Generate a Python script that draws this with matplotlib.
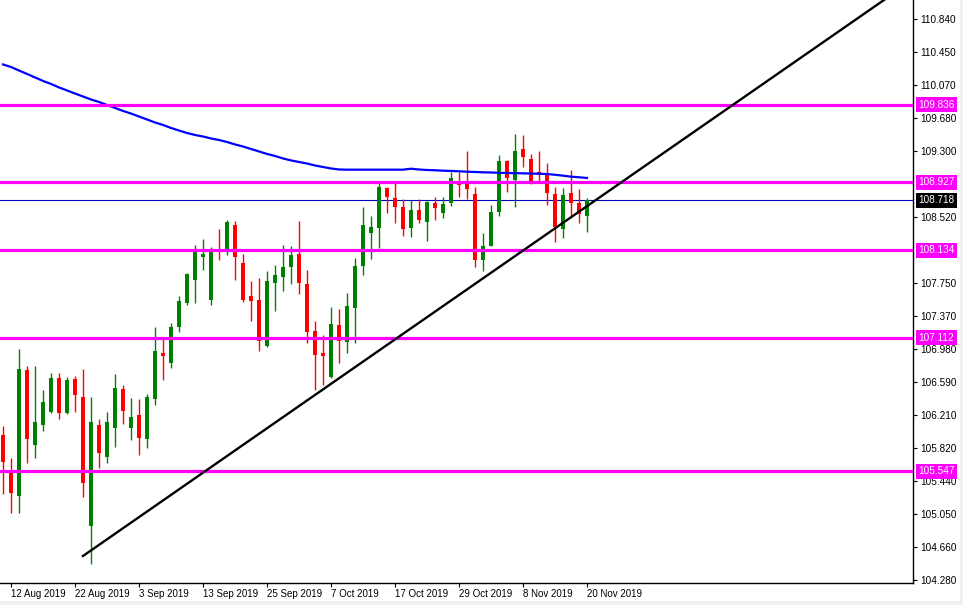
import numpy as np
import pandas as pd
import matplotlib
matplotlib.use('Agg')
import matplotlib.pyplot as plt
from matplotlib.patches import Rectangle

# daily candles, 9 Aug 2019 .. 20 Nov 2019
opens = [105.973, 105.543, 105.263, 106.733, 105.859, 106.090, 106.245, 106.640, 106.234, 106.628,
         106.417, 104.912, 106.090, 105.719, 106.058, 106.511, 106.058, 106.207, 105.930, 106.398,
         106.932, 106.819, 107.240, 107.517, 107.790, 108.055, 107.552, 108.129, 108.117, 108.430,
         107.985, 107.599, 107.552, 107.018, 107.755, 107.825, 107.942, 108.091, 107.740, 107.190,
         106.936, 106.655, 107.260, 107.064, 107.462, 107.954, 108.340, 108.398, 108.863, 108.746,
         108.640, 108.398, 108.605, 108.468, 108.691, 108.574, 108.691, 108.933, 108.918, 108.793,
         108.020, 108.184, 108.585, 109.179, 108.956, 109.319, 109.202, 109.046, 109.015, 108.793,
         108.387, 108.808, 108.684, 108.539]
highs = [106.078, 105.707, 106.979, 106.780, 106.780, 106.499, 106.702, 106.702, 106.655, 106.667,
         106.745, 106.417, 106.160, 106.242, 106.687, 106.558, 106.406, 106.394, 106.453, 107.236,
         107.104, 107.287, 107.599, 107.868, 108.196, 108.270, 108.172, 108.387, 108.488, 108.477,
         108.087, 107.775, 107.810, 107.892, 107.962, 108.196, 108.184, 108.477, 107.903, 107.307,
         107.143, 107.474, 107.447, 107.631, 108.040, 108.637, 108.535, 108.918, 108.878, 108.918,
         108.731, 108.722, 108.731, 108.711, 108.754, 108.761, 109.053, 109.053, 109.296, 108.871,
         108.333, 108.664, 109.249, 109.190, 109.495, 109.483, 109.261, 109.296, 109.159, 108.878,
         108.859, 109.073, 108.848, 108.746]
lows = [105.279, 105.057, 105.064, 105.649, 105.707, 106.023, 106.234, 106.160, 106.222, 106.245,
        105.251, 104.460, 105.590, 105.649, 105.829, 106.105, 105.918, 105.742, 105.824, 106.327,
        106.620, 106.760, 107.181, 107.497, 107.517, 107.903, 107.497, 108.024, 108.082, 107.790,
        107.532, 107.310, 106.959, 107.006, 107.427, 107.661, 107.743, 107.626, 107.046, 106.499,
        106.558, 106.640, 106.812, 106.936, 107.046, 107.848, 108.036, 108.157, 108.567, 108.457,
        108.301, 108.293, 108.450, 108.246, 108.488, 108.512, 108.652, 108.761, 108.731, 107.933,
        107.895, 108.180, 108.537, 108.816, 108.644, 109.112, 108.906, 108.936, 108.664, 108.234,
        108.278, 108.527, 108.453, 108.351]
closes = [105.660, 105.298, 106.745, 105.923, 106.125, 106.359, 106.640, 106.234, 106.616, 106.444,
          105.415, 106.125, 105.766, 106.125, 106.523, 106.257, 106.183, 105.941, 106.417, 106.956,
          106.901, 107.236, 107.541, 107.857, 108.129, 108.091, 108.137, 108.117, 108.465, 108.059,
          107.556, 107.544, 107.076, 107.775, 107.845, 107.938, 108.079, 107.755, 107.181, 106.912,
          106.901, 107.272, 107.076, 107.482, 107.950, 108.430, 108.406, 108.878, 108.761, 108.644,
          108.387, 108.605, 108.492, 108.699, 108.632, 108.676, 108.980, 108.894, 108.848, 108.020,
          108.184, 108.582, 109.179, 108.980, 109.296, 109.229, 108.933, 109.023, 108.808, 108.410,
          108.781, 108.684, 108.555, 108.718]
moving_avg = [110.308, 110.278, 110.237, 110.197, 110.156, 110.115, 110.080, 110.039, 110.004, 109.968,
              109.933, 109.898, 109.869, 109.834, 109.799, 109.764, 109.734, 109.699, 109.664, 109.629,
              109.600, 109.565, 109.535, 109.506, 109.483, 109.465, 109.442, 109.424, 109.401, 109.372,
              109.348, 109.319, 109.290, 109.261, 109.237, 109.208, 109.185, 109.167, 109.149, 109.126,
              109.108, 109.091, 109.079, 109.077, 109.077, 109.077, 109.077, 109.077, 109.077, 109.077,
              109.077, 109.088, 109.079, 109.073, 109.070, 109.065, 109.062, 109.058, 109.053, 109.050,
              109.046, 109.044, 109.040, 109.038, 109.036, 109.034, 109.032, 109.029, 109.026, 109.017,
              109.007, 108.995, 108.988, 108.980]

levels = [109.836, 108.927, 108.134, 107.112, 105.547]
last_price = 108.718
trend_bars = [10, 115]
trend_prices = [104.557, 111.379]

date_labels = ['12 Aug 2019', '22 Aug 2019', '3 Sep 2019', '13 Sep 2019', '25 Sep 2019',
               '7 Oct 2019', '17 Oct 2019', '29 Oct 2019', '8 Nov 2019', '20 Nov 2019']
price_ticks = [110.840, 110.450, 110.070, 109.680, 109.300, 108.520, 107.750, 107.370,
               106.980, 106.590, 106.210, 105.820, 105.440, 105.050, 104.660, 104.280]

plt.rcParams['font.family'] = ['Liberation Sans', 'DejaVu Sans']

dates = pd.bdate_range('2019-08-09', periods=len(opens))
x = np.arange(len(opens))
o = np.array(opens)
h = np.array(highs)
l = np.array(lows)
c = np.array(closes)
cols = np.where(c >= o, '#008000', '#FF0000')

fig = plt.figure(figsize=(9.63, 6.05), dpi=100)
ax = fig.add_axes([0, 22 / 605, 913 / 963, 583 / 605])

ax.axhline(last_price, color='#0000C0', lw=0.8, zorder=1)
ax.vlines(x, l, h, colors=cols, lw=1.0, zorder=2)
ax.bar(x, np.abs(c - o), bottom=np.minimum(o, c), width=0.62, color=cols, lw=0, zorder=2)
ax.plot(x, moving_avg, color='#0000FF', lw=1.6, zorder=3)
for lv in levels:
    ax.axhline(lv, color='#FF00FF', lw=2.3, zorder=4)
ax.plot(trend_bars, trend_prices, color='black', lw=1.7, zorder=5)

ax.set_xlim(-0.375, 113.75)
ax.set_ylim(104.241, 111.062)

ax.spines['left'].set_visible(False)
ax.spines['top'].set_visible(False)
ax.spines['right'].set_linewidth(1.0)
ax.spines['bottom'].set_linewidth(1.0)

ax.yaxis.tick_right()
ax.set_yticks(price_ticks)
ax.set_yticklabels(['%.3f' % v for v in price_ticks])
ax.tick_params(axis='y', direction='out', length=3, width=0.8, pad=2, labelsize=7.2)

tick_pos = [dates.get_loc(pd.Timestamp(d)) for d in date_labels]
ax.set_xticks(tick_pos)
ax.set_xticklabels(date_labels, ha='left')
ax.tick_params(axis='x', direction='out', length=3, width=0.8, pad=1.5, labelsize=7.0)

tr = ax.get_yaxis_transform()
for lv in levels:
    ax.text(1.006, lv, '%.3f' % lv, transform=tr, ha='left', va='center', fontsize=7.2,
            color='white', zorder=6, clip_on=False,
            bbox=dict(boxstyle='square,pad=0.25', fc='#FF00FF', ec='none'))
ax.text(1.006, last_price, '%.3f' % last_price, transform=tr, ha='left', va='center', fontsize=7.2,
        color='white', zorder=6, clip_on=False,
        bbox=dict(boxstyle='square,pad=0.25', fc='black', ec='none'))

fig.patches.append(Rectangle((0, 0), 1, 4 / 605, transform=fig.transFigure, fc='#F0F0F0', ec='none'))
fig.patches.append(Rectangle((960 / 963, 0), 3 / 963, 1, transform=fig.transFigure, fc='#F0F0F0', ec='none'))

fig.savefig('out.png', dpi=100)
